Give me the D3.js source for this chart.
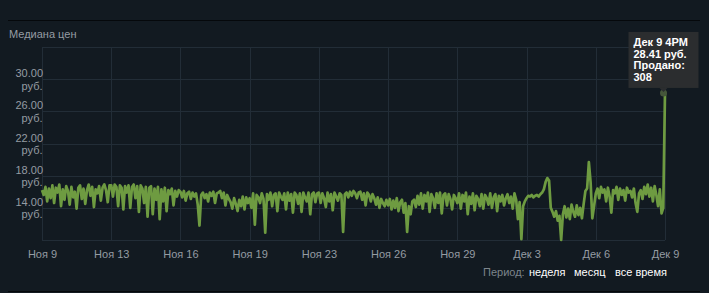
<!DOCTYPE html>
<html>
<head>
<meta charset="utf-8">
<script src="https://cdn.jsdelivr.net/npm/d3@7/dist/d3.min.js"></script>
<style>
  html, body { margin: 0; padding: 0; background: #121a21; }
  svg { display: block; font-family: Arial, "Liberation Sans", sans-serif; }
</style>
</head>
<body>
<svg id="chart" width="709" height="293"></svg>
<script>
// median price, one value every 2 hours from Nov 9 4PM to Dec 9 4PM
const startTime = new Date(2023, 10, 9, 16);
const stepHours = 2;
const prices = [
  16.2, 15.6, 16.6, 14.8, 16.4, 15.2, 16.8, 14.6, 16.5, 15.9, 16.9, 14.2, 16.3, 15.0, 16.7, 16.1, 14.4, 16.6, 15.3, 16.0,
  13.9, 16.5, 16.8, 15.1, 16.4, 14.5, 16.2, 16.9, 15.5, 16.6, 14.1, 16.3, 15.8, 16.7, 14.9, 16.5, 16.9, 16.2, 14.7, 16.8,
  16.8, 15.4, 16.9, 16.6, 14.2, 16.8, 16.5, 13.8, 16.7, 15.9, 16.8, 14.0, 16.6, 16.9, 15.2, 16.7, 13.5, 16.8, 16.4, 14.6,
  16.6, 12.9, 16.5, 16.7, 13.2, 16.4, 15.0, 16.6, 12.6, 16.3, 14.8, 16.5, 13.6, 16.2, 15.7, 16.4, 14.3, 16.1, 15.4, 16.2,
  16.0, 15.3, 16.1, 14.9, 15.8, 16.0, 15.1, 15.9, 15.4, 15.8, 14.4, 11.8, 15.6, 15.9, 15.2, 15.7, 14.8, 15.9, 15.5, 16.0,
  14.6, 15.8, 15.9, 16.1, 15.2, 15.9, 14.3, 15.6, 15.1, 14.7, 13.9, 15.2, 14.5, 13.6, 15.0, 14.2, 15.4, 13.8, 15.3, 14.6,
  15.2, 14.0, 15.8, 11.9, 15.6, 15.3, 14.6, 15.8, 15.1, 10.9, 15.7, 15.0, 15.9, 14.2, 15.6, 15.8, 13.6, 15.9, 15.4, 15.0,
  15.8, 13.8, 15.9, 14.9, 15.7, 13.4, 15.9, 15.6, 14.5, 15.8, 13.5, 15.9, 15.3, 14.8, 15.9, 13.2, 15.7, 15.9, 14.7, 15.8,
  15.9, 14.6, 15.8, 15.2, 14.1, 15.9, 14.8, 15.7, 13.7, 15.9, 15.4, 14.9, 15.8, 15.6, 11.0, 15.7, 15.9, 15.3, 16.0, 15.5,
  16.1, 15.8, 15.2, 15.9, 16.0, 15.0, 15.8, 14.3, 15.9, 15.6, 14.8, 15.7, 15.2, 14.4, 15.3, 14.0, 15.1, 14.6, 14.2, 15.0,
  14.3, 15.1, 13.8, 14.9, 14.0, 15.2, 13.6, 14.7, 15.0, 13.4, 14.6, 11.0, 14.2, 13.2, 14.8, 15.0, 14.1, 15.5, 14.4, 15.8,
  13.9, 15.6, 14.8, 15.9, 13.5, 15.7, 15.2, 14.0, 15.8, 14.6, 15.9, 13.3, 15.6, 15.8, 14.3, 15.7, 15.1, 13.8, 15.6, 15.2,
  14.6, 15.8, 13.9, 15.6, 14.8, 15.9, 13.2, 15.4, 14.5, 15.8, 13.7, 15.5, 15.1, 14.2, 15.7, 13.9, 15.6, 15.2, 14.4, 15.8,
  14.0, 15.3, 15.7, 13.6, 15.5, 14.8, 15.6, 14.3, 15.2, 15.7, 14.6, 15.4, 13.9, 15.8, 15.0, 12.6, 14.7, 10.1, 14.2, 14.8,
  15.2, 15.5, 15.4, 15.6, 15.3, 15.5, 15.6, 15.4, 15.7, 15.9, 16.3, 17.2, 17.7, 17.4, 14.0, 13.5, 12.9, 13.6, 12.4, 13.0,
  10.0, 13.2, 14.2, 12.8, 13.9, 12.6, 14.4, 13.5, 12.9, 14.3, 13.1, 14.0, 12.7, 14.5, 16.1, 16.4, 19.7, 17.2, 12.7, 14.2,
  15.8, 16.4, 15.2, 16.6, 15.9, 16.3, 14.8, 16.5, 15.4, 13.4, 16.2, 15.8, 16.6, 15.0, 16.4, 15.6, 16.2, 14.9, 16.5, 15.9,
  16.1, 15.3, 16.4, 14.6, 13.5, 15.8, 16.2, 15.1, 16.6, 15.7, 16.9, 15.4, 16.5, 14.8, 16.7, 15.6, 14.2, 16.3, 13.3, 14.0,
  28.41
];
const tickLabels = ['Ноя 9', 'Ноя 13', 'Ноя 16', 'Ноя 19', 'Ноя 23', 'Ноя 26', 'Ноя 29', 'Дек 3', 'Дек 6', 'Дек 9'];
const yTicks = [14, 18, 22, 26, 30];
const yGrid = [10, 14, 18, 22, 26, 30, 34];
const tooltipLines = ['Дек 9 4PM', '28.41 руб.', 'Продано:', '308'];
const periodLinks = ['неделя', 'месяц', 'все время'];

const data = prices.map((p, i) => ({
  date: new Date(startTime.getTime() + i * stepHours * 3600e3),
  price: p
}));

const svg = d3.select('#chart');
const plot = {left: 42, right: 665, top: 47, bottom: 240};

// separators top and bottom
svg.append('line').attr('x1', 8).attr('x2', 700).attr('y1', 20.5).attr('y2', 20.5)
  .attr('stroke', '#05080b');
svg.append('line').attr('x1', 8).attr('x2', 700).attr('y1', 291.5).attr('y2', 291.5)
  .attr('stroke', '#05080b');

svg.append('text').attr('x', 9).attr('y', 38)
  .attr('font-size', 11).attr('fill', '#959ca3').text('Медиана цен');

const x = d3.scaleTime()
  .domain(d3.extent(data, d => d.date))
  .range([plot.left, plot.right]);
const y = d3.scaleLinear().domain([10, 34]).range([plot.bottom, plot.top]);

const dom = x.domain();
const span = dom[1] - dom[0];
const tickDates = tickLabels.map((_, i) => new Date(dom[0].getTime() + i * span / (tickLabels.length - 1)));

// grid
const grid = svg.append('g').attr('stroke', '#222d37').attr('stroke-width', 1);
grid.selectAll('.vg').data(tickDates).join('line')
  .attr('x1', d => Math.round(x(d)) + 0.5).attr('x2', d => Math.round(x(d)) + 0.5)
  .attr('y1', plot.top).attr('y2', plot.bottom);
grid.selectAll('.hg').data(yGrid).join('line')
  .attr('x1', plot.left).attr('x2', plot.right)
  .attr('y1', d => Math.round(y(d)) + 0.5).attr('y2', d => Math.round(y(d)) + 0.5);

// x axis labels
const xAxis = svg.append('g')
  .attr('transform', 'translate(0,' + (plot.bottom + 1) + ')')
  .call(d3.axisBottom(x).tickValues(tickDates).tickSize(0).tickPadding(9)
    .tickFormat((d, i) => tickLabels[i]));
xAxis.select('.domain').remove();
xAxis.selectAll('text').attr('font-family', 'Arial, "Liberation Sans", sans-serif')
  .attr('font-size', 11).attr('fill', '#959ca3');

// y labels, value over currency
const yl = svg.append('g').attr('font-size', 11).attr('fill', '#959ca3').attr('text-anchor', 'end');
yl.selectAll('text').data(yTicks).join('text')
  .attr('x', 43)
  .attr('y', d => y(d) - 2)
  .call(t => t.append('tspan').text(d => d.toFixed(2)))
  .call(t => t.append('tspan').attr('x', 42.5).attr('dy', 12.5).text('руб.'));

// price line
const line = d3.line().x(d => x(d.date)).y(d => y(d.price));
svg.append('path').datum(data)
  .attr('d', line)
  .attr('fill', 'none')
  .attr('stroke', '#6e9b41')
  .attr('stroke-width', 2.7)
  .attr('stroke-linejoin', 'round');

// highlighted last point with tooltip
const last = data[data.length - 1];
const px = x(last.date) - 1.5, py = y(last.price);
svg.append('circle').attr('cx', px).attr('cy', py + 1).attr('r', 3.5)
  .attr('fill', '#45563a');
const tip = svg.append('g');
const bx = px - 35, bw = 70, bh = 56, by = py - 4 - bh;
tip.append('rect').attr('x', bx).attr('y', by).attr('width', bw).attr('height', bh)
  .attr('fill', '#2b2d2f');
tip.append('path')
  .attr('d', `M${px - 4},${by + bh} L${px + 4},${by + bh} L${px},${by + bh + 4} Z`)
  .attr('fill', '#2b2d2f');
tip.selectAll('text').data(tooltipLines).join('text')
  .attr('x', bx + 5)
  .attr('y', (d, i) => by + 14 + i * 11.7)
  .attr('font-size', 11).attr('font-weight', 'bold').attr('fill', '#ffffff')
  .text(d => d);

// period selector
const per = svg.append('text').attr('y', 275.5).attr('font-size', 11);
per.append('tspan').attr('x', 483).attr('fill', '#7d858c').text('Период:');
const linkX = [529, 574, 615];
periodLinks.forEach((p, i) => {
  per.append('tspan').attr('x', linkX[i]).attr('fill', '#ffffff').text(p);
});
</script>
</body>
</html>
